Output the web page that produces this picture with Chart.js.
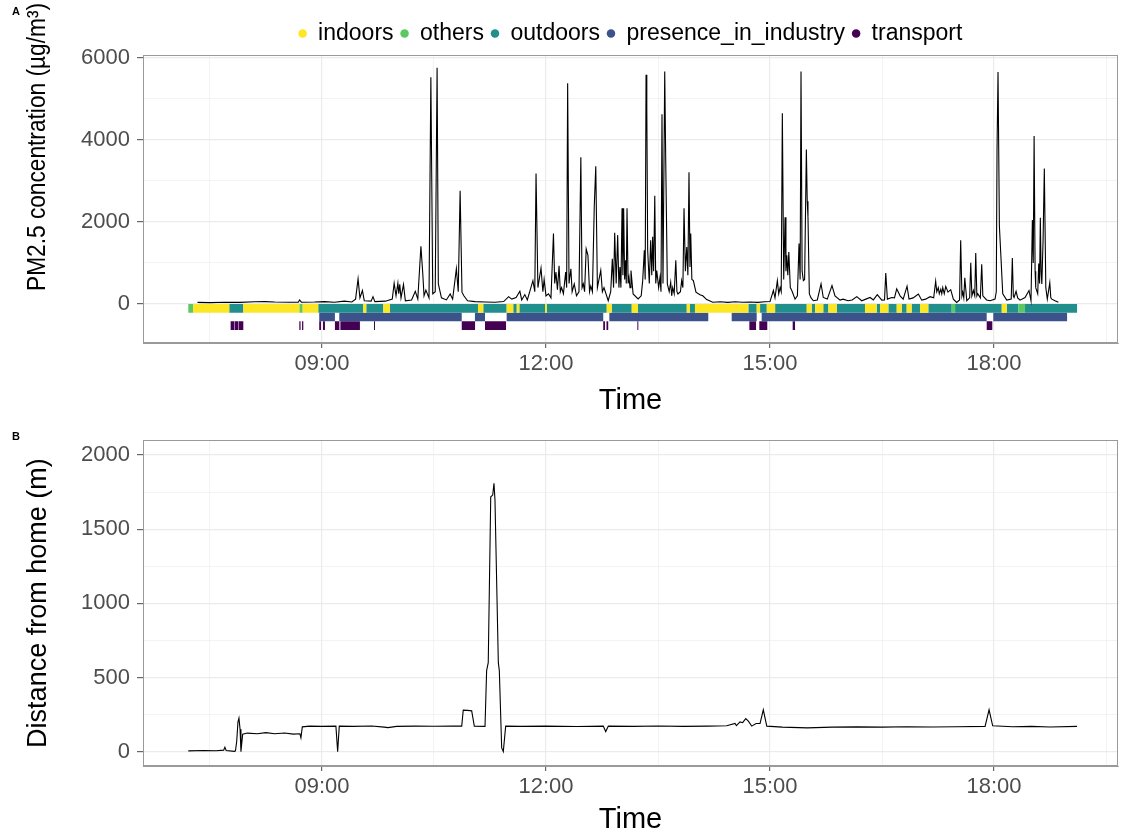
<!DOCTYPE html>
<html><head><meta charset="utf-8">
<script src="https://cdn.jsdelivr.net/npm/chart.js@4.4.1/dist/chart.umd.min.js"></script>
<style>
html,body{margin:0;padding:0;background:#fff;}
#wrapA{position:absolute;left:0;top:0;width:1121px;height:420px;}
#wrapB{position:absolute;left:0;top:420px;width:1121px;height:419px;}
</style></head><body>
<div id="wrapA"><canvas id="cA" width="1121" height="420"></canvas></div>
<div id="wrapB"><canvas id="cB" width="1121" height="419"></canvas></div>
<script>
// ---------- DATA (time in minutes after midnight) ----------
const activityLabels = ['indoors','others','outdoors','presence_in_industry','transport'];
const activityColors = ['#FDE725','#5DC863','#21908C','#3B528B','#440154'];
const timeTickMajor = [540, 720, 900, 1080];          // 09:00 12:00 15:00 18:00
const timeTickMinor = [450, 630, 810, 990, 1170];
const pmTickMajor = [0, 2000, 4000, 6000];
const pmTickMinor = [1000, 3000, 5000];
const distTickMajor = [0, 500, 1000, 1500, 2000];
const distTickMinor = [250, 750, 1250, 1750];

// PM2.5 concentration readings [minute, µg/m3]
const pmPoints = [
[440,40],[450,35],[462,45],[474,40],[486,55],[494,60],[502,50],[514,45],[521,45],[522,100],[523.5,45],[534,50],[542,60],[550,45],[558,70],[564,50],[567,120],[569,613],[570.5,150],[572.5,330],[574,80],[579.5,70],[581,180],[582.5,60],[591,70],[596.5,120],[598,508],[599.5,200],[601,508],[601.7,250],[602.5,480],[603.5,150],[605.5,475],[607,80],[612,100],[615,310],[617,120],[619.5,1406],[621,736],[622,200],[623.5,340],[626,150],[627.5,5520],[629,250],[631,300],[632.5,5750],[633.5,490],[636,150],[640,100],[643,245],[645,120],[648,860],[649.5,300],[651,2757],[652.5,290],[654,200],[657,80],[663,60],[671,50],[679,45],[686,60],
[690,180],[692.5,120],[696,160],[699,310],[700.5,100],[703,230],[705,100],[709.5,570],[711,300],[712,3175],[713.5,400],[716,875],[717.5,300],[718.5,600],[720,200],[722,250],[724,150],[726,1718],[727,500],[728,777],[729.2,350],[730.5,932],[731.5,300],[732.5,400],[734,250],[735.8,777],[736.6,400],[737.4,5374],[738.5,500],[740,860],[741,300],[742.7,490],[744.5,200],[746.5,300],[748,3575],[749,400],[750,490],[751,300],[752.3,1341],[753.7,1186],[755,300],[756,440],[757.3,300],[758.8,2390],[760,3354],[761.3,400],[764,818],[765.3,300],[766.6,400],[770,80],[772,300],[773.3,1104],[774.3,400],[775.2,1735],[776.4,500],[777.6,1677],[778.6,400],[779.4,900],[780.2,400],[781.1,2331],[781.8,700],[782.4,2331],[783.2,600],[784,1063],[784.5,500],[785.1,2331],[786,500],[786.7,650],[787.5,400],[788.3,818],[790,245],[794,123],[796.5,200],[797.7,570],[799,1309],[799.7,600],[800.4,5580],[801,4785],[801.7,1309],[803,500],[804.1,1554],[805,700],[805.7,1636],[806.5,800],[807.4,2634],[808.2,500],[809,818],[810.5,400],[811.6,650],[812.4,300],[813.2,4621],[814,500],[815.4,5660],[816.2,3500],[817.5,490],[819,300],[820.2,530],[821,200],[821.8,400],[823,250],[824.3,1063],[825.2,300],[826,245],[828,300],[829,570],[830,400],[830.9,2331],[832,800],[833.1,1390],[834,700],[834.9,3207],[835.7,900],[836.3,1718],[837.2,600],[838.4,570],[840.5,290],[843.7,225],[846,200],[849.1,110],[854,45],[860,55],[866,40],[872,55],[878,45],[884,50],[890,40],[896,55],[900,60],
[902.7,330],[904,150],[905.9,570],[907,250],[908.1,400],[909,300],[909.9,4646],[911,600],[912.1,2110],[912.8,800],[913.5,1186],[914.3,700],[915.1,1268],[916.3,400],[917.5,330],[920.1,120],[922,200],[923.3,1472],[924.2,600],[924.9,5660],[925.8,800],[926.8,570],[927.8,600],[929.2,3762],[929.9,2500],[930.5,2127],[931.6,245],[933,150],[934.8,80],
[938,100],[941,490],[942.8,160],[946,120],[949.8,450],[952.2,200],[956.3,95],[958.7,120],[962.7,80],[966,100],[969.7,180],[973.7,80],[977,120],[980.4,160],[983,100],[986.2,230],[989.8,95],[992,100],[993,753],[994.3,120],[997.8,160],[1000,150],[1001.8,370],[1004.5,200],[1007,120],[1010.1,434],[1011.7,120],[1015,150],[1019.2,245],[1021.9,95],[1025,120],[1028.6,180],[1031.5,150],[1033.1,556],[1034,300],[1035.2,400],[1036,250],[1037.2,360],[1038,250],[1038.8,400],[1040,250],[1041.2,430],[1043,290],[1045.2,350],[1047.3,120],[1050,40],[1052.3,100],[1053.2,1554],[1054.2,200],[1054.9,290],[1055.7,150],[1056.5,640],[1058.1,80],[1060.4,150],[1061.3,1006],[1062.2,200],[1063.4,330],[1064.5,200],[1065.3,1243],[1066.2,200],[1066.9,250],[1069,150],[1070.1,966],[1071,200],[1074,100],[1076.8,80],[1080.8,120],[1081.8,300],[1082.4,3762],[1083.2,5645],[1084.3,1898],[1085.4,1230],[1087,250],[1090.2,95],[1093.8,120],[1094.7,1120],[1095.5,200],[1096.1,160],[1097.7,310],[1099,150],[1100.9,95],[1104.9,160],[1108.1,330],[1109.7,80],[1110.8,2045],[1111.5,1000],[1112.2,4090],[1113,800],[1113.5,400],[1115.1,250],[1115.9,985],[1116.6,500],[1117.2,2103],[1117.8,800],[1118.4,490],[1119.4,1554],[1120.4,3296],[1121.6,400],[1122.8,120],[1124.8,520],[1125.6,150],[1126.4,120],[1129,80],[1131.7,45]
];

// Activity row 1: location [start, end, category]
const locationSegments = [
[432.6,436.6,'others'],[436.6,465.5,'indoors'],[465.5,476.8,'outdoors'],[476.8,521.8,'indoors'],[521.8,524.5,'others'],[524.5,537.0,'indoors'],[537.0,573.2,'outdoors'],[573.2,575.6,'indoors'],[575.6,589.3,'outdoors'],[589.3,594.6,'indoors'],[594.6,665.4,'outdoors'],[665.4,669.6,'indoors'],[669.6,688.4,'outdoors'],[688.4,693.7,'indoors'],[693.7,696.5,'outdoors'],[696.5,698.6,'indoors'],[698.6,719.2,'outdoors'],[719.2,720.6,'indoors'],[720.6,768.8,'outdoors'],[768.8,772.8,'indoors'],[772.8,788.9,'outdoors'],[788.9,793.9,'indoors'],[793.9,833.1,'outdoors'],[833.1,835.7,'indoors'],[835.7,839.7,'outdoors'],[839.7,882.6,'indoors'],[882.6,889.3,'outdoors'],[889.3,892.0,'indoors'],[892.0,897.4,'outdoors'],[897.4,904.1,'indoors'],[904.1,929.5,'outdoors'],[929.5,933.5,'indoors'],[933.5,936.2,'outdoors'],[936.2,942.8,'indoors'],[942.8,946.9,'outdoors'],[946.9,953.6,'indoors'],[953.6,976.3,'outdoors'],[976.3,985.7,'indoors'],[985.7,988.4,'outdoors'],[988.4,995.1,'indoors'],[995.1,1001.8,'outdoors'],[1001.8,1005.8,'indoors'],[1005.8,1009.8,'outdoors'],[1009.8,1013.8,'indoors'],[1013.8,1020.5,'outdoors'],[1020.5,1027.2,'indoors'],[1027.2,1046.0,'outdoors'],[1046.0,1048.7,'others'],[1048.7,1086.2,'outdoors'],[1086.2,1090.2,'indoors'],[1090.2,1099.5,'outdoors'],[1099.5,1104.9,'others'],[1104.9,1146.7,'outdoors']
];
// Activity row 2: presence_in_industry [start, end]
const industrySegments = [[537.8,550.4],[553.9,652.3],[662.9,671.0],[688.4,766.0],[770.9,850.4],[869.2,889.3],[893.3,1074.1],[1079.4,1138.7]];
// Activity row 3: transport [start, end]
const transportSegments = [[466.6,469.6],[470.0,472.8],[473.2,476.8],[521.8,522.8],[524.0,525.0],[537.8,539.2],[540.8,542.4],[550.4,554.0],[554.8,570.5],[581.8,582.6],[652.3,663.0],[671.0,687.9],[695.1,695.9],[766.0,767.4],[768.6,770.0],[793.4,794.2],[883.4,888.8],[891.4,897.8],[918.2,920.1],[1074.1,1078.6]];
const activityRowLevel = [-105, -315, -525];

// Distance from home [minute, m]
const distPoints = [
[432.6,5],[445,8],[455,6],[461,10],[462,30],[463,8],[469.5,2],[470.5,5],[471.5,70],[472.5,200],[473.3,226],[474.2,150],[474.9,0],[475.6,60],[476.3,118],[480,125],[488,120],[495,128],[502,120],[510,126],[517,118],[522.3,120],[523.1,93],[524.2,167],[530,172],[540,170],[551.2,172],[552.6,0],[553.9,172],[565,170],[580,173],[590,165],[593,162],[600,170],[615,172],[630,171],[645,173],[652.3,172],[653.5,280],[657,278],[660.3,275],[662.4,172],[671,170],[672.3,546],[673.6,600],[675.6,1719],[677.2,1730],[678.2,1809],[679,1700],[681.7,600],[682.5,546],[684.4,25],[685.7,0],[687.6,172],[700,170],[720,172],[745,169],[766,172],[768,135],[770.1,172],[790,170],[810,173],[830,170],[850,172],[865.2,174],[871.9,190],[873,175],[875.9,200],[878,195],[880.5,223],[882.6,205],[885.3,172],[888.8,190],[892,190],[894.6,282],[897.4,172],[910,165],[930,160],[950,165],[970,167],[990,165],[1010,168],[1030,166],[1050,168],[1072.8,170],[1076,282],[1078.9,174],[1095,168],[1110,170],[1125,166],[1146.7,170]
];

// ---------- RENDERING ----------
const FONT = "'Liberation Sans', Arial, Helvetica, sans-serif";
const X_MIN = 396.2, X_MAX = 1179.6;
function hhmm(m){ const h = Math.floor(m/60), mm = Math.round(m%60); return String(h).padStart(2,'0') + ':' + String(mm).padStart(2,'0'); }
const GRID = '#ebebeb', BORDER = '#9a9a9a', TICKC = '#666666', TICKLBL = '#4d4d4d';

function xScale(h){
  const all = timeTickMajor.concat(timeTickMinor).sort((a,b)=>a-b);
  const isMaj = c => c.tick && timeTickMajor.includes(c.tick.value);
  return {
    type:'linear', min:X_MIN, max:X_MAX,
    afterBuildTicks: s => { s.ticks = all.map(v => ({value:v})); },
    ticks:{ autoSkip:false, maxRotation:0, minRotation:0, color:TICKLBL, font:{family:FONT,size:22}, padding:3,
      callback: v => timeTickMajor.includes(v) ? hhmm(v) : '' },
    grid:{ color: c => GRID, lineWidth: c => isMaj(c) ? 1.2 : 0.6,
      tickColor: c => isMaj(c) ? TICKC : 'rgba(0,0,0,0)', tickLength:5 },
    border:{ display:true, color:BORDER, width:1 },
    title:{ display:true, text:'Time', color:'#000', font:{family:FONT,size:29}, padding:{top:0,bottom:2} },
    afterFit: s => { s.height = h; }
  };
}
function yScale(min, max, major, minor, titleOpt){
  const all = major.concat(minor).sort((a,b)=>a-b);
  const isMaj = c => c.tick && major.includes(c.tick.value);
  return {
    type:'linear', min:min, max:max,
    afterBuildTicks: s => { s.ticks = all.map(v => ({value:v})); },
    ticks:{ autoSkip:false, color:TICKLBL, font:{family:FONT,size:22}, padding:7,
      callback: v => major.includes(v) ? String(v) : '' },
    grid:{ color: c => GRID, lineWidth: c => isMaj(c) ? 1.2 : 0.6,
      tickColor: c => isMaj(c) ? TICKC : 'rgba(0,0,0,0)', tickLength:6 },
    border:{ display:true, color:BORDER, width:1 },
    title: titleOpt,
    afterFit: s => { s.width = 143; }
  };
}
const panelBorder = { id:'panelBorder', afterDatasetsDraw(chart){
  const {ctx, chartArea:a} = chart; ctx.save(); ctx.strokeStyle = BORDER; ctx.lineWidth = 1;
  ctx.strokeRect(Math.round(a.left)+0.5, Math.round(a.top)+0.5, Math.round(a.width)-1, Math.round(a.height)-1); ctx.restore(); } };
function panelTag(letter, y){ return { id:'tag'+letter, afterDraw(chart){
  const ctx = chart.ctx; ctx.save(); ctx.fillStyle = '#000'; ctx.font = 'bold 11px ' + FONT;
  ctx.textBaseline = 'middle'; ctx.textAlign = 'left'; ctx.fillText(letter, 12, y); ctx.restore(); } }; }
const pmTitle = { id:'pmTitle', afterDraw(chart){
  const ctx = chart.ctx; ctx.save(); ctx.fillStyle = '#000'; ctx.font = '25px ' + FONT;
  ctx.translate(38, 291); ctx.rotate(-Math.PI/2); ctx.textAlign = 'left'; ctx.textBaseline = 'middle';
  ctx.fillText('PM2.5 concentration (\u00B5g/m\u00B3)', 0, 0, 288); ctx.restore(); } };

function bandData(segs, level){ const out = []; segs.forEach(s => { out.push({x:s[0],y:level},{x:s[1],y:level},{x:s[1],y:null}); }); return out; }
const BAND_W = 8.6;
const bandSets = [];
['indoors','others','outdoors'].forEach(cat => {
  const i = activityLabels.indexOf(cat);
  bandSets.push({ label:cat, data: bandData(locationSegments.filter(s => s[2]===cat), activityRowLevel[0]),
    borderColor:activityColors[i], backgroundColor:activityColors[i], borderWidth:BAND_W, borderCapStyle:'butt', pointRadius:0, spanGaps:false, order:2 });
});
bandSets.push({ label:'presence_in_industry', data: bandData(industrySegments, activityRowLevel[1]),
  borderColor:activityColors[3], backgroundColor:activityColors[3], borderWidth:BAND_W, borderCapStyle:'butt', pointRadius:0, spanGaps:false, order:2 });
bandSets.push({ label:'transport', data: bandData(transportSegments, activityRowLevel[2]),
  borderColor:activityColors[4], backgroundColor:activityColors[4], borderWidth:BAND_W, borderCapStyle:'butt', pointRadius:0, spanGaps:false, order:2 });

new Chart(document.getElementById('cA'), {
  type:'line',
  data:{ datasets:[
    { label:'PM2.5', data: pmPoints.map(p => ({x:p[0], y:p[1]})), borderColor:'#000', backgroundColor:'#000', borderWidth:1.1, pointRadius:0, tension:0, order:0 }
  ].concat(bandSets) },
  options:{
    responsive:false, animation:false, events:[],
    layout:{ padding:{ top:15, right:3, left:0, bottom:0 } },
    plugins:{
      tooltip:{enabled:false},
      legend:{ display:true, position:'top', fullSize:false, align:'center',
        labels:{ usePointStyle:true, pointStyle:'circle', boxHeight:6, boxWidth:8, padding:7, color:'#000', font:{family:FONT,size:23},
          generateLabels: () => activityLabels.map((n,i) => ({ text:n, fillStyle:activityColors[i], strokeStyle:activityColors[i], lineWidth:0, pointStyle:'circle', hidden:false, datasetIndex:i+1, fontColor:'#000' })) } }
    },
    scales:{ x: xScale(77), y: yScale(-948, 6061, pmTickMajor, pmTickMinor, {display:false}) }
  },
  plugins:[panelBorder, panelTag('A', 12), pmTitle]
});

new Chart(document.getElementById('cB'), {
  type:'line',
  data:{ datasets:[
    { label:'Distance', data: distPoints.map(p => ({x:p[0], y:p[1]})), borderColor:'#000', backgroundColor:'#000', borderWidth:1.1, pointRadius:0, tension:0 }
  ] },
  options:{
    responsive:false, animation:false, events:[],
    layout:{ padding:{ top:20, right:3, left:0, bottom:0 } },
    plugins:{ tooltip:{enabled:false}, legend:{display:false} },
    scales:{ x: xScale(73), y: yScale(-97, 2100, distTickMajor, distTickMinor,
      {display:true, text:'Distance from home (m)', color:'#000', font:{family:FONT,size:27}, padding:{top:22,bottom:0}}) }
  },
  plugins:[panelBorder, panelTag('B', 17)]
});
</script>
</body></html>
